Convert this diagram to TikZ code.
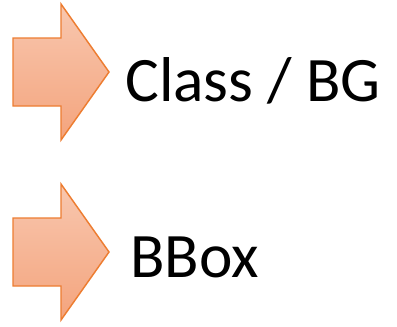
\documentclass[tikz,border=0pt]{standalone}
\usepackage{fontspec}
\setmainfont{Carlito}
\usepackage{tikz}
\usetikzlibrary{arrows}

\definecolor{arrowtop}{HTML}{F8C7AF}
\definecolor{arrowbottom}{HTML}{F4A47D}
\definecolor{arrowline}{HTML}{ED7D31}

\tikzset{
	blockarrow/.style={draw=arrowline, line width=1.1pt, line join=miter,
		top color=arrowtop, bottom color=arrowbottom},
	itemlabel/.style={anchor=base west, inner sep=0pt, font=\fontsize{47.5}{57}\selectfont}
}

\begin{document}
\begin{tikzpicture}[x=0.75pt, y=-0.75pt]
		\useasboundingbox (0,0) rectangle (397,326);
%		\draw[help lines] (0,0) grid (397,326);
		\path (13,38) coordinate (cls_tail_top);
		\path (13,106) coordinate (cls_tail_bot);
		\path (61,4) coordinate (cls_head_top);
		\path (61,140) coordinate (cls_head_bot);
		\path (109,72) coordinate (cls_tip);
		\path (13,218) coordinate (box_tail_top);
		\path (13,286) coordinate (box_tail_bot);
		\path (61,184) coordinate (box_head_top);
		\path (61,320) coordinate (box_head_bot);
		\path (109,252) coordinate (box_tip);
		\path (125,101) node(cls) [itemlabel] {Class / BG};
		\path (130,277) node(bbox) [itemlabel] {BBox};

		\draw[blockarrow] (cls_tail_top) -- (cls_tail_top -| cls_head_top) -- (cls_head_top)
			-- (cls_tip) -- (cls_head_bot) -- (cls_tail_bot -| cls_head_bot) -- (cls_tail_bot) -- cycle;
		\draw[blockarrow] (box_tail_top) -- (box_tail_top -| box_head_top) -- (box_head_top)
			-- (box_tip) -- (box_head_bot) -- (box_tail_bot -| box_head_bot) -- (box_tail_bot) -- cycle;
	\end{tikzpicture}
\end{document}
